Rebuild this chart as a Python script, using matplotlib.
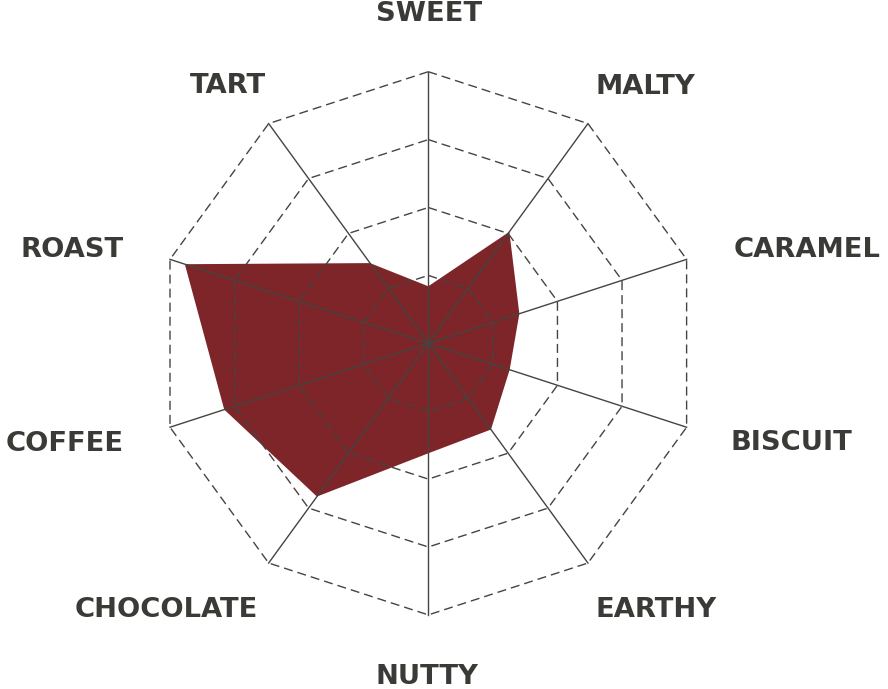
import numpy as np
import matplotlib
matplotlib.use('Agg')
import matplotlib.pyplot as plt

# flavour profile, clockwise from the top
categories = ['SWEET', 'MALTY', 'CARAMEL', 'BISCUIT', 'EARTHY',
              'NUTTY', 'CHOCOLATE', 'COFFEE', 'ROAST', 'TART']
scores = [0.84, 2.03, 1.41, 1.26, 1.57, 1.62, 2.79, 3.16, 3.77, 1.46]
rings = [1, 2, 3, 4]

# label anchors in pixels (centre x, baseline y from top)
label_px = [(429, 20.7), (645, 94), (807, 256.7), (791, 450), (656, 616.7),
            (427, 684), (166, 616.7), (65, 450.7), (72.5, 256.7), (227.5, 92.7)]

W, H = 888, 689
fill_color = '#7d2529'
line_color = '#444441'
text_color = '#3a3a36'

plt.rcParams['lines.scale_dashes'] = False

fig = plt.figure(figsize=(W / 100, H / 100), dpi=100)
cx, cy, R = 428.3, 343.3, 271.6
ax = fig.add_axes([(cx - R) / W, (H - cy - R) / H, 2 * R / W, 2 * R / H],
                  projection='polar')
ax.set_theta_zero_location('N')
ax.set_theta_direction(-1)
ax.set_ylim(0, max(rings))
ax.axis('off')

n = len(categories)
angles = np.linspace(0, 2 * np.pi, n, endpoint=False)
closed = np.append(angles, angles[0])

vals = np.append(scores, scores[0])
ax.fill(closed, vals, color=fill_color, lw=0, zorder=1)

for r in rings:
    ax.plot(closed, [r] * (n + 1), color=line_color, lw=1.0,
            linestyle=(0, (6.5, 3.6)), zorder=2, clip_on=False)

for a in angles:
    ax.plot([a, a], [0, max(rings)], color=line_color, lw=1.0, zorder=3,
            clip_on=False)

for name, (x, y) in zip(categories, label_px):
    fig.text(x / W, 1 - y / H, name, ha='center', va='baseline',
             fontsize=19.7, fontweight='bold', color=text_color,
             family='DejaVu Sans')

fig.savefig('out.png', dpi=100, facecolor='white')
